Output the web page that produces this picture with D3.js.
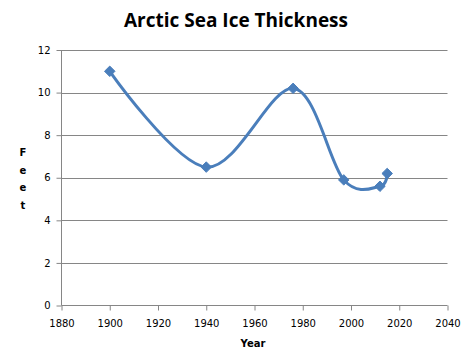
<!DOCTYPE html>
<html>
<head>
<meta charset="utf-8">
<script src="https://cdn.jsdelivr.net/npm/d3@7"></script>
<style>
  html, body { margin: 0; padding: 0; background: #fff; }
  svg { display: block; }
</style>
</head>
<body>
<svg id="chart" width="471" height="359"></svg>
<script>
const years = [1900, 1940, 1976, 1997, 2012, 2015];
const thickness = [11, 6.5, 10.2, 5.9, 5.6, 6.2];
const xTicks = [1880, 1900, 1920, 1940, 1960, 1980, 2000, 2020, 2040];
const yTicks = [0, 2, 4, 6, 8, 10, 12];
const title = "Arctic Sea Ice Thickness";
const xTitle = "Year";
const yTitle = "Feet";

(function () {
const svg = d3.select("#chart");
const pLeft = 61.5, pRight = 447.5, pTop = 50, pBottom = 305.5;
const x = d3.scaleLinear().domain([1880, 2040]).range([pLeft, pRight]);
const y = d3.scaleLinear().domain([0, 12]).range([pBottom, pTop]);
const font = "'DejaVu Sans', Verdana, sans-serif";
const grey = "#868686";
const blue = "#4A7EBB";

// gridlines
svg.append("g").selectAll("line").data(yTicks.filter(d => d > 0)).join("line")
  .attr("x1", pLeft).attr("x2", pRight)
  .attr("y1", d => Math.round(y(d)) + 0.5).attr("y2", d => Math.round(y(d)) + 0.5)
  .attr("stroke", grey).attr("stroke-width", 1);

// y axis
const yAxis = svg.append("g").attr("transform", `translate(${pLeft},0)`)
  .call(d3.axisLeft(y).tickValues(yTicks).tickSize(5).tickPadding(6).tickFormat(d3.format("d")));
yAxis.select(".domain").attr("stroke", grey).attr("d", `M0,${y(12)}V${y(0)}`);
yAxis.selectAll(".tick line").attr("stroke", grey);
yAxis.selectAll("text").attr("font-family", font).attr("font-size", 10).attr("fill", "#000");

// x axis
const xAxis = svg.append("g").attr("transform", `translate(0,${pBottom})`)
  .call(d3.axisBottom(x).tickValues(xTicks).tickSize(5).tickPadding(9).tickFormat(d3.format("d")));
xAxis.select(".domain").attr("stroke", grey).attr("d", `M${pLeft},0H${pRight}`);
xAxis.selectAll(".tick line").attr("stroke", grey);
xAxis.selectAll("text").attr("font-family", font).attr("font-size", 10).attr("fill", "#000");

// line
const pts = years.map((yr, i) => [yr, thickness[i]]);
const line = d3.line().x(d => x(d[0])).y(d => y(d[1])).curve(d3.curveCardinal.tension(0));
svg.append("path").datum(pts).attr("d", line)
  .attr("fill", "none").attr("stroke", blue).attr("stroke-width", 3)
  .attr("stroke-linejoin", "round").attr("stroke-linecap", "round");

// markers
svg.append("g").selectAll("path").data(pts).join("path")
  .attr("d", d3.symbol(d3.symbolDiamond2, 70)())
  .attr("transform", d => `translate(${x(d[0])},${y(d[1])})`)
  .attr("fill", blue).attr("stroke", blue).attr("stroke-width", 1);

// title
svg.append("text").attr("x", 236).attr("y", 27).attr("text-anchor", "middle")
  .attr("font-family", "'Open Sans', sans-serif").attr("font-weight", "bold")
  .attr("font-size", 19).attr("fill", "#000").text(title);

// x title
svg.append("text").attr("x", 253).attr("y", 347).attr("text-anchor", "middle")
  .attr("font-family", font).attr("font-weight", "bold").attr("font-size", 10)
  .attr("fill", "#000").text(xTitle);

// y title stacked letters
svg.append("g").selectAll("text").data(yTitle.split("")).join("text")
  .attr("x", 23).attr("y", (d, i) => 156 + i * 17.5).attr("text-anchor", "middle")
  .attr("font-family", font).attr("font-weight", "bold").attr("font-size", 10)
  .attr("fill", "#000").text(d => d);
})();
</script>
</body>
</html>
